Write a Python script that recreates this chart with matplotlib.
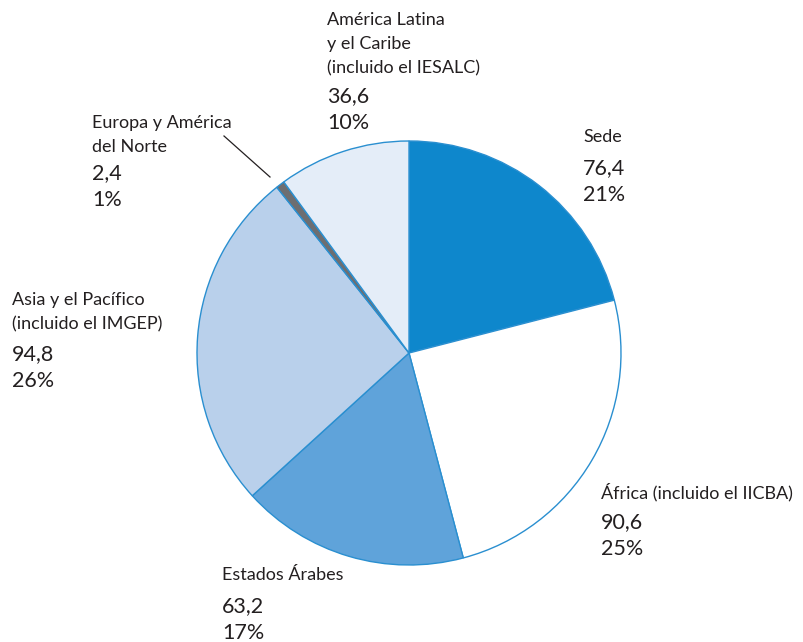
import matplotlib.pyplot as plt

plt.rcParams['font.family'] = ['Lato', 'DejaVu Sans']

# datos (millones)
regiones = ["Sede", "África (incluido el IICBA)", "Estados Árabes",
            "Asia y el Pacífico\n(incluido el IMGEP)", "Europa y América\ndel Norte",
            "América Latina\ny el Caribe\n(incluido el IESALC)"]
valores = [76.4, 90.6, 63.2, 94.8, 2.4, 36.6]
colores = ["#0e87cc", "#ffffff", "#5fa3da", "#b9d0eb", "#6d6e71", "#e4edf8"]

total = sum(valores)
porcentajes = [round(v / total * 100) for v in valores]

W, H = 804, 642
fig = plt.figure(figsize=(W / 100, H / 100), dpi=100)
ax = fig.add_axes([0, 0, 1, 1])

ax.pie(valores, colors=colores, startangle=90, counterclock=False,
       center=(409, H - 353), radius=212,
       wedgeprops=dict(edgecolor="#2a8fd0", linewidth=1.0))
ax.set_xlim(0, W)
ax.set_ylim(0, H)
ax.set_aspect('equal')
ax.axis('off')

# posiciones de las etiquetas en píxeles: x, y de la primera línea, y del valor
pos = [(583, 137, 168), (601, 492, 522), (222, 575, 606),
       (12, 300, 354), (92, 123, 173), (327, 20, 96)]

txt = "#231f20"
for nombre, v, p, (x, y0, y1) in zip(regiones, valores, porcentajes, pos):
    for i, linea in enumerate(nombre.split("\n")):
        ax.text(x, H - (y0 + i * 24), linea, fontsize=13, color=txt, va='center', ha='left')
    ax.text(x, H - y1, f"{v:.1f}".replace(".", ","), fontsize=15.5, color=txt, va='center', ha='left')
    ax.text(x, H - (y1 + 27), f"{p}%", fontsize=15.5, color=txt, va='center', ha='left')

# línea guía para Europa
ax.plot([224, 270], [H - 136, H - 177], color="#231f20", lw=0.9)

fig.savefig("out.png", dpi=100)
